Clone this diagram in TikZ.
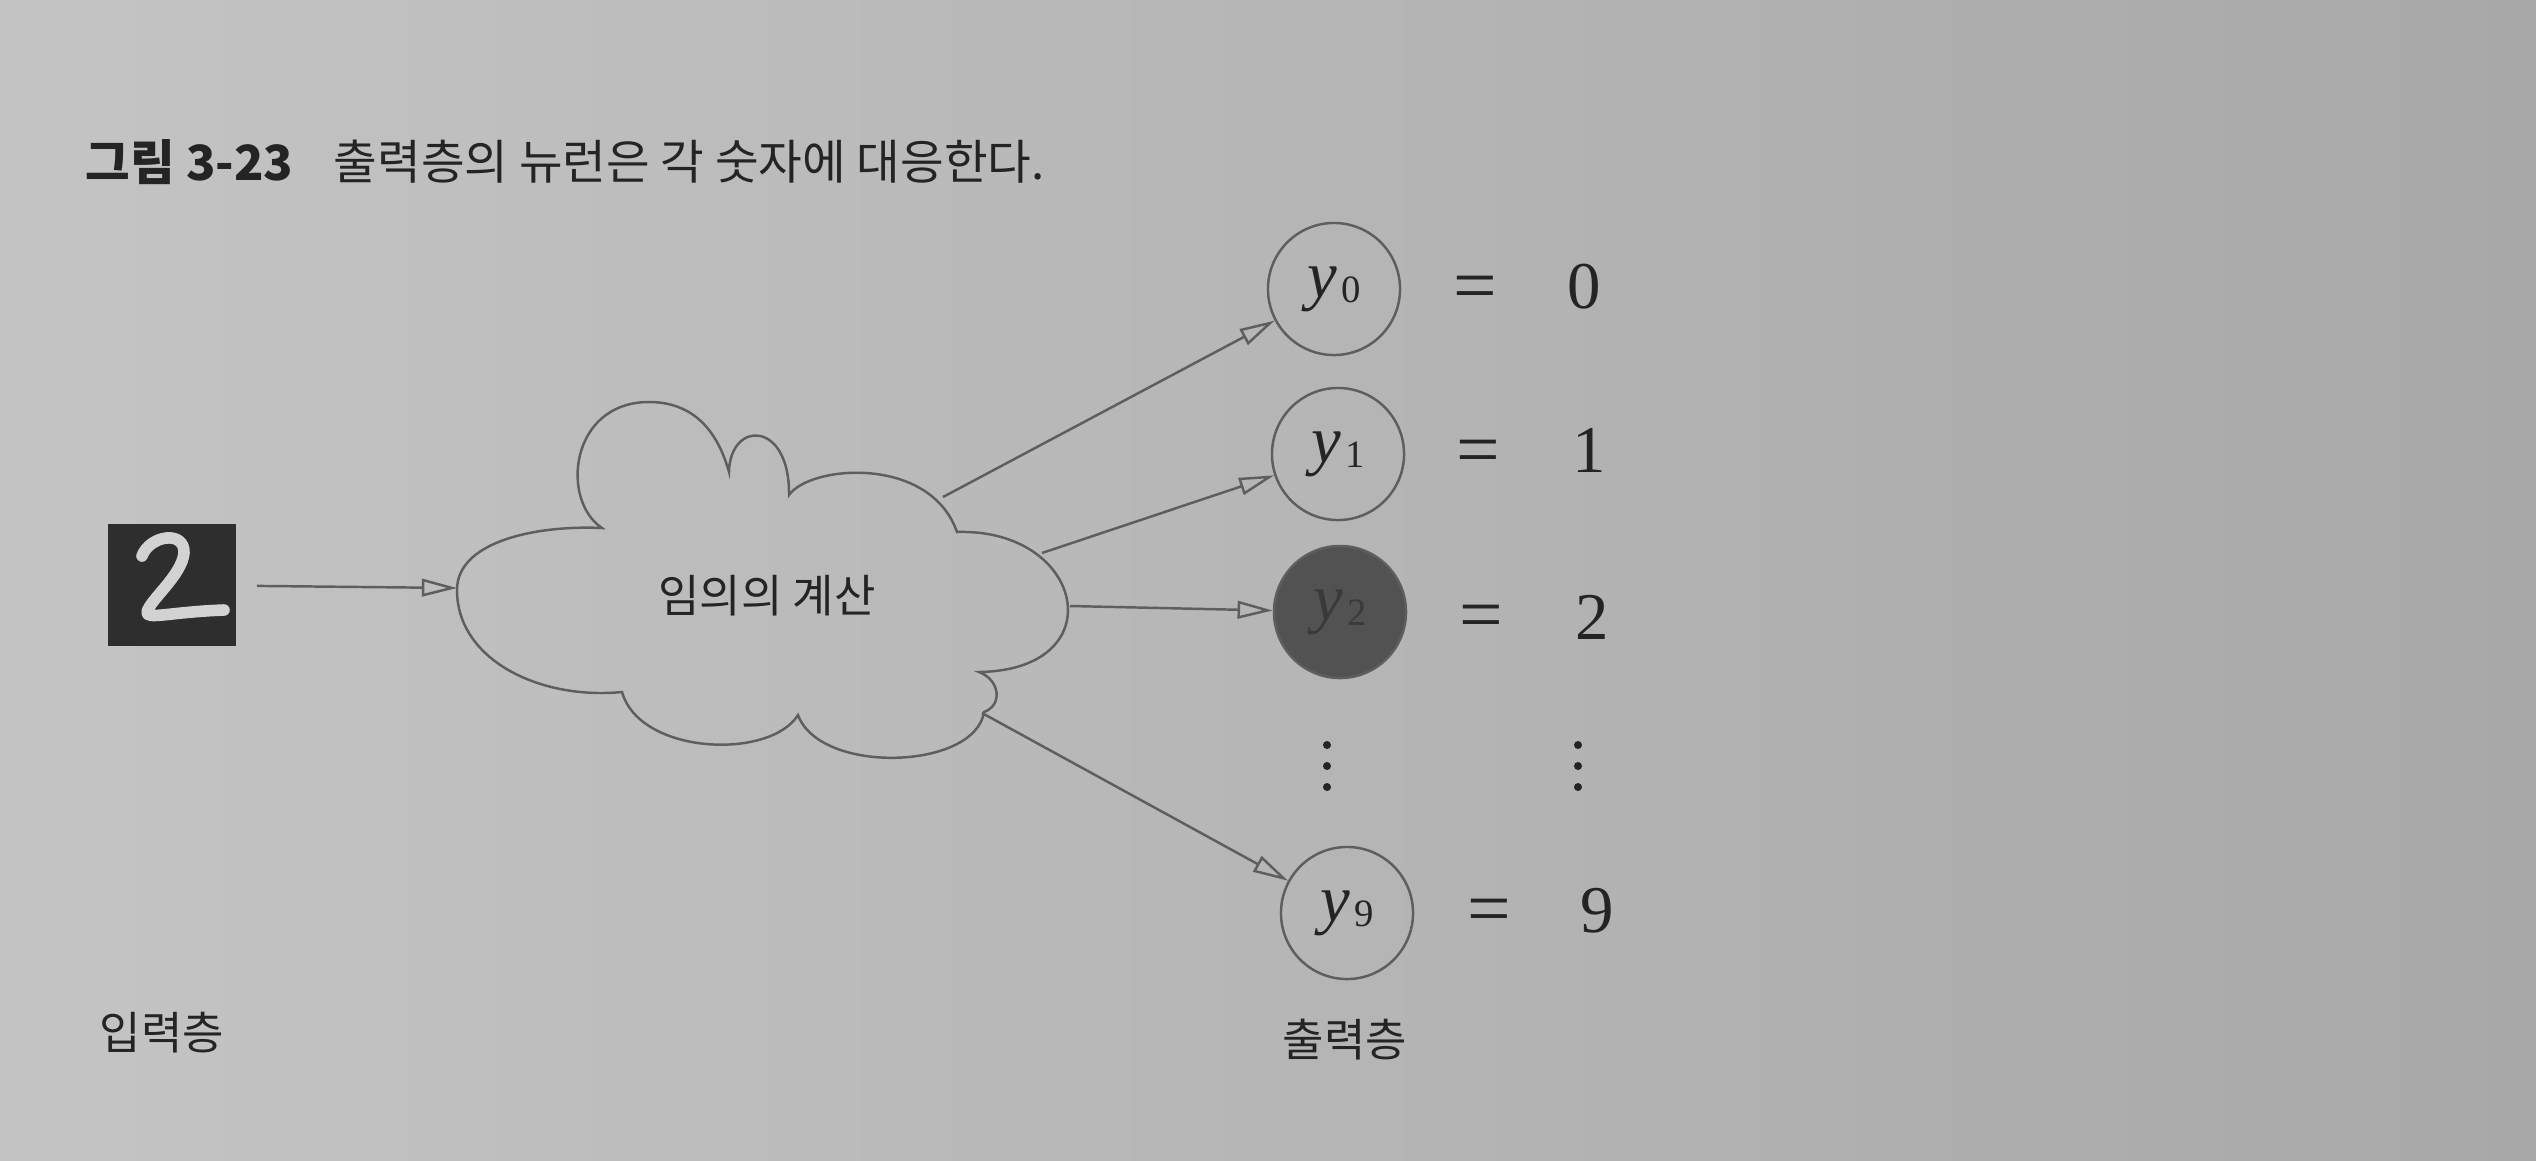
\documentclass[tikz,border=0pt]{standalone}
\usepackage{fontspec}
\usetikzlibrary{arrows.meta}
\newfontfamily\kr{Noto Sans CJK KR}
\newfontfamily\tm{Liberation Serif}
\definecolor{paperL}{HTML}{C4C4C4}
\definecolor{paperR}{HTML}{A8A8A8}
\definecolor{ink}{HTML}{242424}
\definecolor{linec}{HTML}{5E5E5E}
\definecolor{darkn}{HTML}{525252}
\definecolor{darkt}{HTML}{3A3A3A}
\definecolor{imgdark}{HTML}{2E2E2E}
\definecolor{digitc}{HTML}{D2D2D2}
\newcommand\ylab[1]{{\tm\itshape\fontsize{19}{22}\selectfont y}\kern1.3pt\raisebox{-1.5pt}{\tm\fontsize{11}{12}\selectfont #1}}
\begin{document}
\begin{tikzpicture}[x=0.01cm,y=-0.01cm,
  conn/.style={draw=linec, line width=0.7pt, -{Triangle[open,length=10pt,width=5pt]}},
  neuron/.style={circle, draw=linec, line width=0.7pt, minimum size=1.32cm, inner sep=0pt, text=ink},
  kor/.style={font=\kr\fontsize{12.8}{15}\selectfont, text=ink, inner sep=0pt},
  title/.style={font=\kr\fontsize{13.5}{16}\selectfont, text=ink, inner sep=0pt},
  titleb/.style={font=\kr\bfseries\fontsize{13.8}{16}\selectfont, text=ink, inner sep=0pt},
  num/.style={font=\tm\fontsize{19}{22}\selectfont, text=ink, inner sep=0pt},
  eqs/.style={font=\tm\fontsize{22}{24}\selectfont, text=ink, inner sep=0pt}]
\shade[left color=paperL, right color=paperR] (0,0) rectangle (2536,1160);
\useasboundingbox (0,0) rectangle (2536,1160);
% title
\node[titleb, anchor=west] (fig) at (85,162) {그림 3-23};
\node[title, anchor=west] (cap) at (333,162) {출력층의 뉴런은 각 숫자에 대응한다.};
% input image
\node[fill=imgdark, minimum width=1.28cm, minimum height=1.21cm, inner sep=0pt] (img) at (172,585) {};
\draw[color=digitc, line width=3.3pt, line cap=round, line join=round]
  (142,556) .. controls (150,535) and (185,530) .. (184,553)
  .. controls (182,575) and (150,600) .. (147,612)
  .. controls (146,620) and (170,612) .. (224,610);
% cloud
\draw[linec, line width=0.7pt]
  (602,528) .. controls (560,500) and (570,402) .. (649,402)
  .. controls (700,402) and (720,440) .. (729,472)
  .. controls (730,420) and (790,420) .. (789,495)
  .. controls (810,465) and (930,455) .. (957,532)
  .. controls (1085,528) and (1115,670) .. (979,672)
  .. controls (1000,680) and (1003,705) .. (984,712)
  .. controls (975,770) and (820,775) .. (798,715)
  .. controls (770,760) and (640,755) .. (622,692)
  .. controls (540,700) and (457,660) .. (457,590)
  .. controls (457,540) and (540,525) .. (602,528) -- cycle;
\node[kor] (cloud) at (767,596) {임의의 계산};
\coordinate (cin) at (457,588);
\coordinate (s0) at (943,497);
\coordinate (s1) at (1042,553);
\coordinate (s2) at (1070,606);
\coordinate (s9) at (982,713);
% neurons
\node[neuron] (y0) at (1334,289) {\ylab{0}};
\node[neuron] (y1) at (1338,454) {\ylab{1}};
\node[neuron, fill=darkn, text=darkt] (y2) at (1340,612) {\ylab{2}};
\node[neuron] (y9) at (1347,913) {\ylab{9}};
% connectors
\draw[conn, shorten <=5.7pt] (img) -- (cin);
\draw[conn] (s0) -- (y0);
\draw[conn] (s1) -- (y1);
\draw[conn] (s2) -- (y2);
\draw[conn] (s9) -- (y9);
% equals and digits
\node[eqs] (e0) at (1475,294) {=};
\node[num] (n0) at (1584,287) {0};
\node[eqs] (e1) at (1478,458) {=};
\node[num] (n1) at (1589,450) {1};
\node[eqs] (e2) at (1481,623) {=};
\node[num] (n2) at (1592,617) {2};
\node[eqs] (e9) at (1489,917) {=};
\node[num] (n9) at (1597,911) {9};
% vertical dots
\foreach \yy in {745,766,787} {
  \fill[ink] (1327,\yy) circle (4);
  \fill[ink] (1578,\yy) circle (4);
}
% layer labels
\node[kor] (inl) at (162,1033) {입력층};
\node[kor] (outl) at (1345,1040) {출력층};
\end{tikzpicture}
\end{document}
